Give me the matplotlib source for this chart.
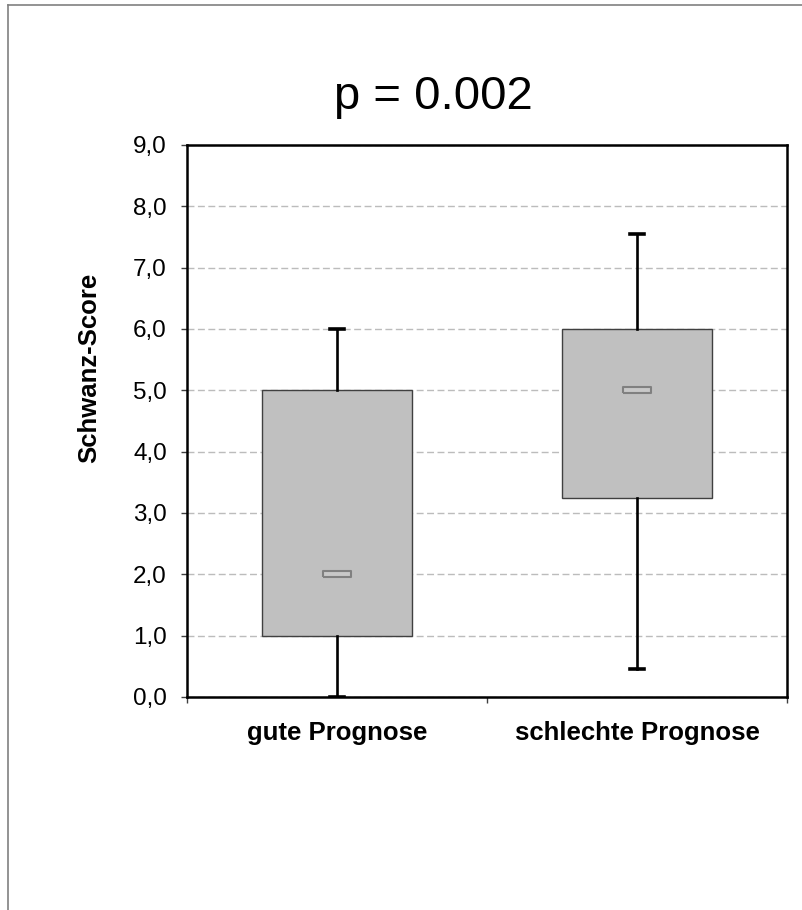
import matplotlib
matplotlib.use("Agg")
import matplotlib.pyplot as plt
from matplotlib.lines import Line2D
from matplotlib.ticker import FuncFormatter

plt.rcParams['font.family'] = ['Liberation Sans', 'DejaVu Sans']

# data
groups = ['gute Prognose', 'schlechte Prognose']
q1 = [1.0, 3.25]
median = [2.0, 5.0]
q3 = [5.0, 6.0]
whis_lo = [0.0, 0.45]
whis_hi = [6.0, 7.55]
p_text = 'p = 0.002'
y_label = 'Schwanz-Score'

fig = plt.figure(figsize=(8.02, 9.10), dpi=100)
ax = fig.add_axes([187 / 802, 1 - 697 / 910, 600 / 802, 552 / 910])

stats = []
for i in range(len(groups)):
    stats.append(dict(label=groups[i], q1=q1[i], med=median[i], q3=q3[i],
                      whislo=whis_lo[i], whishi=whis_hi[i], fliers=[]))

pos = [1, 2]
ax.bxp(stats, positions=pos, widths=0.5, capwidths=0.044, patch_artist=True,
       showfliers=False,
       boxprops=dict(facecolor='#c0c0c0', edgecolor='#404040', linewidth=1.0),
       whiskerprops=dict(color='black', linewidth=1.9),
       capprops=dict(color='black', linewidth=2.6),
       medianprops=dict(linewidth=0), zorder=3)

# median drawn as small rectangle marker
rect = [(-14, -3), (14, -3), (14, 3), (-14, 3), (-14, -3)]
ax.plot(pos, median, linestyle='none', marker=rect, markersize=20,
        markerfacecolor='#c8c8c8', markeredgecolor='#808080',
        markeredgewidth=1.5, zorder=5)

ax.set_xlim(0.5, 2.5)
ax.set_ylim(0, 9)
ax.set_yticks(range(0, 10))
ax.yaxis.set_major_formatter(FuncFormatter(lambda v, _: f'{v:.1f}'.replace('.', ',')))
ax.tick_params(axis='y', length=4.5, width=1, color='#404040', pad=10, labelsize=17.5)

ax.set_xticks([0.5, 1.5, 2.5])
ax.set_xticklabels([])
ax.tick_params(axis='x', which='major', length=4.5, width=1, color='#404040')
ax.set_xticks(pos, minor=True)
ax.set_xticklabels(groups, minor=True, fontsize=18.5, fontweight='bold')
ax.tick_params(axis='x', which='minor', length=0, pad=17)

ax.yaxis.grid(True, linestyle=(0, (5, 2.5)), color='#bcbcbc', linewidth=1)
ax.set_axisbelow(True)
for s in ax.spines.values():
    s.set_linewidth(1.8)
    s.set_color('black')

fig.text(433.5 / 802, 1 - 109 / 910, p_text, fontsize=34, ha='center', va='baseline')
fig.text(89 / 802, 1 - 368 / 910, y_label, fontsize=18.5, fontweight='bold',
         rotation=90, ha='center', va='center')

# outer frame (left and top edge)
fig.add_artist(Line2D([7.5 / 802, 7.5 / 802], [0, 1 - 4.5 / 910], color='#808080', linewidth=1.2))
fig.add_artist(Line2D([7.5 / 802, 1], [1 - 4.5 / 910, 1 - 4.5 / 910], color='#808080', linewidth=1.2))

fig.savefig('out.png', dpi=100)
